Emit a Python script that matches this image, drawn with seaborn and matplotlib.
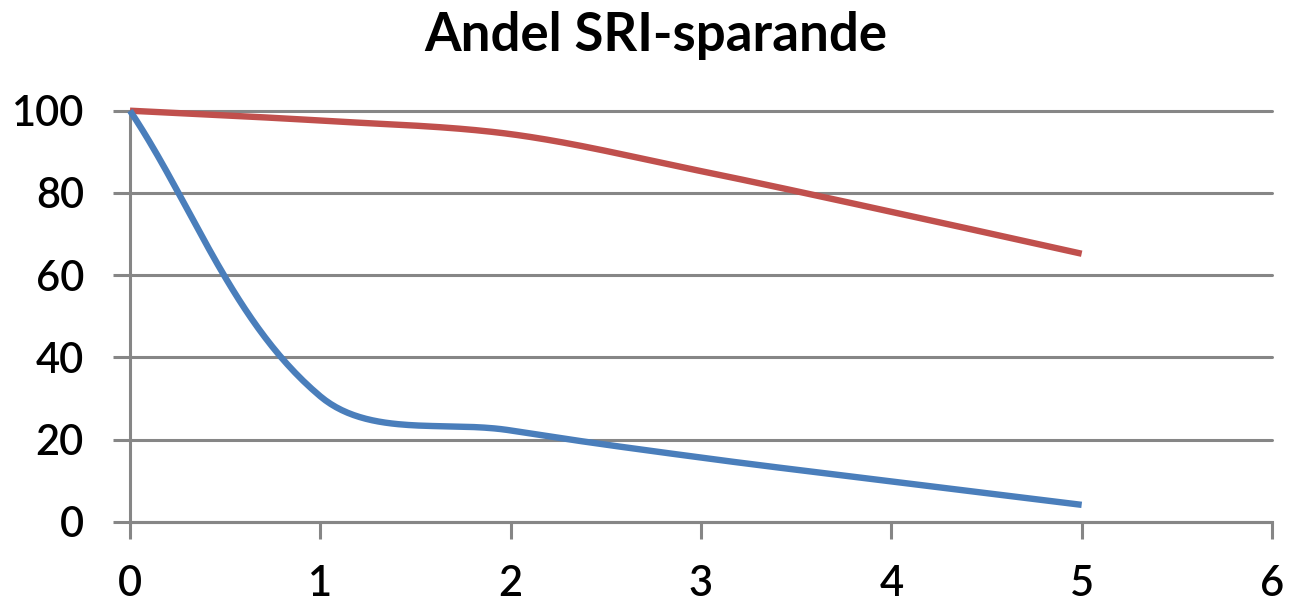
import numpy as np
import pandas as pd
import matplotlib
matplotlib.use("Agg")
import matplotlib.pyplot as plt
import seaborn as sns

# ---- data ----
years = [0, 1, 2, 3, 4, 5]
serie_red = [100, 97.6, 94.3, 85.3, 75.4, 65.2]
serie_blue = [100, 30.5, 22.2, 15.6, 9.8, 4.1]
x_ticks = [0, 1, 2, 3, 4, 5, 6]
y_ticks = [0, 20, 40, 60, 80, 100]
title = "Andel SRI-sparande"

RED = "#C0504D"
BLUE = "#4A7EBB"
GRID = "#868686"

W, H = 1290, 605
L_PX, R_PX, T_PX, B_PX = 130, 1272, 110.7, 521.7


def excel_smooth(xs, ys, sx, sy, n=60):
    """Bezier smoothing similar to Excel's 'smoothed line' rendering."""
    P = np.column_stack([np.asarray(xs, float) * sx, np.asarray(ys, float) * sy])
    m = len(P)
    tang = []
    for i in range(m):
        if i == 0:
            d = P[1] - P[0]
        elif i == m - 1:
            d = P[-1] - P[-2]
        else:
            d = P[i + 1] - P[i - 1]
        tang.append(d / np.linalg.norm(d))
    out = [P[0]]
    t = np.linspace(0, 1, n)[1:, None]
    for i in range(m - 1):
        Ls = np.linalg.norm(P[i + 1] - P[i])
        c1 = P[i] + tang[i] * Ls / 3
        c2 = P[i + 1] - tang[i + 1] * Ls / 3
        B = (1 - t) ** 3 * P[i] + 3 * (1 - t) ** 2 * t * c1 + 3 * (1 - t) * t ** 2 * c2 + t ** 3 * P[i + 1]
        out.extend(B)
    out = np.array(out)
    return out[:, 0] / sx, out[:, 1] / sy


sns.set_theme(style="white")
plt.rcParams['font.family'] = ['Lato', 'DejaVu Sans']

fig = plt.figure(figsize=(W / 100, H / 100), dpi=100)
ax = fig.add_axes([L_PX / W, 1 - B_PX / H, (R_PX - L_PX) / W, (B_PX - T_PX) / H])

sx = (R_PX - L_PX) / 6.0
sy = (B_PX - T_PX) / 100.0

frames = []
for name, vals in [("red", serie_red), ("blue", serie_blue)]:
    xs, ys = excel_smooth(years, vals, sx, sy)
    frames.append(pd.DataFrame({"x": xs, "y": ys, "serie": name}))
df = pd.concat(frames, ignore_index=True)

sns.lineplot(data=df, x="x", y="y", hue="serie", palette={"red": RED, "blue": BLUE},
             sort=False, estimator=None, legend=False, linewidth=4.6, ax=ax,
             solid_capstyle="butt", zorder=3)
for ln in ax.get_lines():
    ln.set_clip_on(False)

ax.set_xlim(0, 6)
ax.set_ylim(0, 100)
ax.set_xticks(x_ticks)
ax.set_yticks(y_ticks)
ax.set_xticklabels([str(v) for v in x_ticks])
ax.set_yticklabels([str(v) for v in y_ticks])
ax.set_xlabel("")
ax.set_ylabel("")

ax.yaxis.grid(True, color=GRID, linewidth=2.2)
ax.xaxis.grid(False)
for gl in ax.get_ygridlines():
    gl.set_clip_on(False)
ax.set_axisbelow(True)

for s in ["top", "right"]:
    ax.spines[s].set_visible(False)
for s in ["left", "bottom"]:
    ax.spines[s].set_color(GRID)
    ax.spines[s].set_linewidth(2.2)

ax.tick_params(axis="both", which="major", length=12.2, width=2.2, color=GRID,
               direction="out", labelsize=30, labelcolor="black")
ax.tick_params(axis="y", pad=21)
ax.tick_params(axis="x", pad=19)
ax.tick_params(left=True, bottom=True)
for lbl in ax.get_xticklabels() + ax.get_yticklabels():
    lbl.set_fontweight("semibold")

fig.text(656 / W, 1 - 51 / H, title, ha="center", va="baseline",
         fontsize=38, fontweight="bold", color="black")

fig.savefig("out.png", dpi=100, facecolor="white")
